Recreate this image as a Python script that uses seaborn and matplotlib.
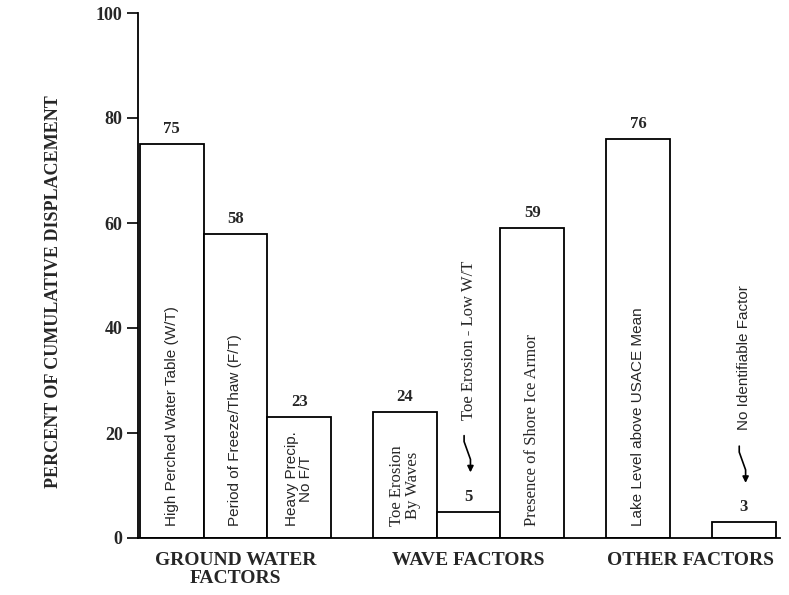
import numpy as np
import pandas as pd
import matplotlib.pyplot as plt
import seaborn as sns


# Data
factors = ['High Perched Water Table (W/T)', 'Period of Freeze/Thaw (F/T)', 'Heavy Precip.\nNo F/T',
           'Toe Erosion\nBy Waves', 'Toe Erosion - Low W/T', 'Presence of Shore Ice Armor',
           'Lake Level above USACE Mean', 'No Identifiable Factor']
percent = [75, 58, 23, 24, 5, 59, 76, 3]
groups = ['GROUND WATER\nFACTORS'] * 3 + ['WAVE FACTORS'] * 3 + ['OTHER FACTORS'] * 2
yticks = [0, 20, 40, 60, 80, 100]

# layout: gap (in bar widths) before some bars
gap = 0.66
gap_before = [0, 0, 0, 1, 0, 0, 1, 1]
label_font = ['Liberation Sans'] * 3 + ['Liberation Serif'] * 3 + ['Liberation Sans'] * 2
label_size = [11] * 3 + [12] * 3 + [11] * 2

pos = np.arange(len(percent)) + 0.5 + gap * np.cumsum(gap_before)
df = pd.DataFrame({'pos': pos, 'percent': percent, 'factor': factors, 'group': groups})

sns.set_style('white')
plt.rcParams['font.family'] = 'Liberation Serif'

fig = plt.figure(figsize=(7.89, 5.95), dpi=100)
ax = fig.add_axes([138 / 789, 1 - 538 / 595, 642 / 789, 525 / 595])

sns.barplot(data=df, x='pos', y='percent', native_scale=True, orient='x', width=1,
            color='white', saturation=1, edgecolor='black', linewidth=1.3, ax=ax)

# value on top of each bar
ax.bar_label(ax.containers[0], labels=[str(v) for v in percent], padding=5,
             fontsize=12, fontweight='bold')

# labels written inside / above the bars
for x, v, txt, fam, fs in zip(pos, percent, factors, label_font, label_size):
    if v > 10:
        ax.text(x, 2.3, txt, rotation=90, ha='center', va='bottom', family=fam,
                fontsize=fs, multialignment='center', linespacing=1.0)
    else:
        # small bar: label sits higher, with a zigzag arrow down to the value
        ax.text(x, v + 17.5, txt, rotation=90, ha='center', va='bottom', family=fam,
                fontsize=fs)
        ax.annotate('', xy=(x + 0.03, v + 7.5), xytext=(x - 0.07, v + 14.5),
                    arrowprops=dict(arrowstyle='-|>', color='black', lw=1.2, mutation_scale=9,
                                    shrinkA=0, shrinkB=0,
                                    connectionstyle='arc,angleA=-90,angleB=90,armA=6,armB=13,rad=0'))

ax.set_xlim(-0.03, 10.05)
ax.set_ylim(0, 100)
ax.set_yticks(yticks)
centers = df.groupby('group', sort=False)['pos'].mean()
ax.set_xticks(centers.values, centers.index, fontsize=14, fontweight='bold', linespacing=1.05)
ax.tick_params(axis='x', bottom=False, length=0, pad=10)
ax.tick_params(axis='y', left=True, length=8, width=1.2, direction='out', labelsize=13,
               pad=3, color='black')
for t in ax.get_yticklabels():
    t.set_fontweight('bold')

ax.set_xlabel('')
ax.set_ylabel('PERCENT OF CUMULATIVE DISPLACEMENT', fontsize=13, fontweight='bold')
ax.yaxis.set_label_coords(-0.118, 0.47)

sns.despine(ax=ax)
for s in ['left', 'bottom']:
    ax.spines[s].set_color('black')
    ax.spines[s].set_linewidth(1.3)

fig.savefig('out.png', dpi=100)
